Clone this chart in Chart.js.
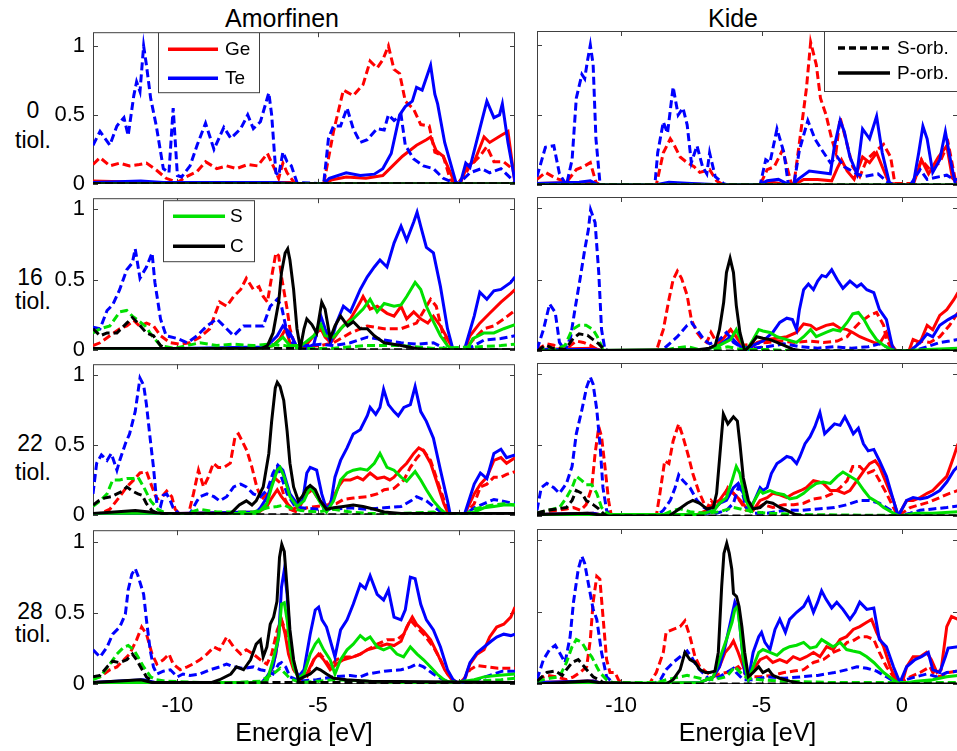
<!DOCTYPE html>
<html>
<head>
<meta charset="utf-8">
<script src="https://cdn.jsdelivr.net/npm/chart.js@4.4.0/dist/chart.umd.min.js"></script>
<style>
  body { margin: 0; background: #fff; }
  #fig { position: relative; width: 957px; height: 751px; overflow: hidden; font-family: "Liberation Sans", Arial, sans-serif; }
  #fig canvas { position: absolute; }
  .lbl { position: absolute; transform: translate(-50%, -50%); white-space: nowrap; color: #000; line-height: 1.15; }
</style>
</head>
<body>
<div id="fig">
  <div class="lbl" style="left:282px;top:18px;font-size:25px">Amorfinen</div>
  <div class="lbl" style="left:733px;top:18px;font-size:25px">Kide</div>
  <div class="lbl" style="left:33px;top:110px;font-size:23px">0</div>
  <div class="lbl" style="left:33px;top:140px;font-size:23px">tiol.</div>
  <div class="lbl" style="left:30px;top:277px;font-size:23px">16</div>
  <div class="lbl" style="left:33px;top:301px;font-size:23px">tiol.</div>
  <div class="lbl" style="left:30px;top:443px;font-size:23px">22</div>
  <div class="lbl" style="left:33px;top:472px;font-size:23px">tiol.</div>
  <div class="lbl" style="left:30px;top:611px;font-size:23px">28</div>
  <div class="lbl" style="left:33px;top:634px;font-size:23px">tiol.</div>
</div>
<script>
// axis ticks
const energyTicks = [-10, -5, 0];
const dosTicks = [0, 0.5, 1];

// no thiols -> no S / C states
const zeroDos = [[-13, 0], [2, 0]];

// ---- 0 tiol., amorphous ----
const a0_GeS = [[-13,0.14],[-12.75,0.19],[-12.4,0.13],[-12.05,0.15],[-11.7,0.13],[-11.35,0.14],[-11.1,0.15],[-10.75,0.1],[-10.4,0.04],[-10.0,0.01],[-9.7,0.05],[-9.3,0.09],[-9.0,0.16],[-8.6,0.11],[-8.25,0.13],[-7.9,0.11],[-7.5,0.14],[-7.15,0.13],[-6.8,0.22],[-6.55,0.11],[-6.4,0.04],[-6.25,0.15],[-6.1,0.08],[-5.85,0.01],[-5.6,0],[-4.8,0],[-4.45,0.38],[-4.1,0.68],[-3.75,0.64],[-3.4,0.72],[-3.15,0.89],[-2.9,0.84],[-2.7,0.9],[-2.5,1.0],[-2.3,0.83],[-2.1,0.8],[-1.9,0.6],[-1.6,0.54],[-1.35,0.43],[-1.05,0.42],[-0.85,0.23],[-0.55,0.2],[-0.3,0.03],[-0.05,0],[0.2,0.06],[0.4,0.13],[0.75,0.2],[1.0,0.27],[1.25,0.16],[1.6,0.16],[1.95,0.1]];
const a0_GeP = [[-13,0.02],[-11,0.01],[-8,0.01],[-6,0.01],[-5.7,0],[-4.8,0],[-4.5,0.03],[-4,0.05],[-3.3,0.04],[-2.7,0.06],[-2.35,0.13],[-2.0,0.2],[-1.5,0.28],[-1.15,0.32],[-1.0,0.34],[-0.8,0.24],[-0.55,0.2],[-0.15,0.01],[0.05,0],[0.3,0.13],[0.55,0.16],[0.9,0.34],[1.1,0.3],[1.5,0.35],[1.75,0.38],[2,0.0]];
const a0_TeS = [[-13,0.28],[-12.75,0.38],[-12.4,0.28],[-12.15,0.42],[-11.9,0.48],[-11.75,0.35],[-11.55,0.64],[-11.45,0.74],[-11.33,0.67],[-11.2,1.0],[-11.1,0.86],[-10.95,0.62],[-10.75,0.42],[-10.5,0.11],[-10.3,0.08],[-10.15,0.55],[-10.0,0.06],[-9.85,0.05],[-9.55,0.13],[-9.3,0.28],[-9.0,0.44],[-8.7,0.25],[-8.35,0.41],[-8.1,0.33],[-7.75,0.4],[-7.5,0.5],[-7.3,0.4],[-7.05,0.45],[-6.75,0.66],[-6.65,0.5],[-6.5,0.08],[-6.4,0.06],[-6.25,0.23],[-6.1,0.16],[-5.95,0.13],[-5.75,0.01],[-4.8,0],[-4.63,0.33],[-4.45,0.42],[-4.2,0.42],[-3.97,0.55],[-3.75,0.4],[-3.5,0.3],[-3.25,0.32],[-2.9,0.4],[-2.65,0.39],[-2.5,0.5],[-2.3,0.46],[-2.05,0.5],[-1.9,0.28],[-1.6,0.18],[-1.25,0.13],[-0.9,0.11],[-0.55,0.04],[-0.2,0.01],[0,0],[0.2,0.04],[0.4,0.08],[0.8,0.11],[1.1,0.08],[1.5,0.11],[1.85,0.04],[2,0]];
const a0_TeP = [[-13,0.01],[-11.3,0.02],[-10.5,0.01],[-8,0.01],[-6.5,0.01],[-5.8,0],[-4.8,0],[-4.6,0.04],[-4.0,0.08],[-3.5,0.06],[-3.0,0.07],[-2.7,0.11],[-2.4,0.22],[-2.1,0.5],[-1.9,0.56],[-1.65,0.6],[-1.5,0.7],[-1.3,0.68],[-1.0,0.86],[-0.85,0.65],[-0.75,0.58],[-0.5,0.3],[-0.1,0.01],[0.05,0],[0.25,0.15],[0.4,0.12],[0.75,0.4],[1.0,0.6],[1.25,0.48],[1.45,0.5],[1.55,0.58],[1.75,0.3],[2,0.02]];

// ---- 0 tiol., crystal ----
const k0_GeS = [[-13,0.04],[-12.7,0.09],[-12.35,0.05],[-11.95,0.02],[-11.6,0.11],[-11.35,0.13],[-11.1,0.16],[-10.9,0.02],[-10.75,0],[-8.75,0],[-8.5,0.23],[-8.25,0.33],[-8.15,0.3],[-7.9,0.2],[-7.65,0.16],[-7.4,0.13],[-7.2,0.09],[-6.85,0.11],[-6.6,0.03],[-6.35,0],[-5.05,0],[-4.8,0.11],[-4.55,0.13],[-4.25,0.25],[-3.95,0.02],[-3.85,0],[-3.6,0.38],[-3.4,0.69],[-3.25,1.02],[-3.05,0.86],[-2.9,0.62],[-2.7,0.5],[-2.5,0.33],[-2.35,0.23],[-2.2,0.48],[-2.0,0.33],[-1.75,0.13],[-1.5,0.06],[-1.25,0.18],[-1.0,0.23],[-0.65,0.29],[-0.4,0.2],[-0.25,0.01],[0.4,0.01],[0.7,0.18],[1.0,0.11],[1.35,0.16],[1.65,0.3],[1.9,0.04],[2,0]];
const k0_GeP = [[-13,0.01],[-11.2,0.02],[-10.8,0],[-8.8,0],[-8.2,0.01],[-6.4,0],[-5.05,0],[-4.6,0.02],[-4.1,0],[-3.85,0],[-3.5,0.04],[-3.0,0.04],[-2.5,0.03],[-2.3,0.12],[-2.15,0.18],[-1.95,0.1],[-1.7,0.04],[-1.4,0.2],[-1.15,0.16],[-0.9,0.23],[-0.7,0.13],[-0.45,0.01],[0.4,0],[0.7,0.18],[0.95,0.08],[1.3,0.2],[1.6,0.28],[1.8,0.05],[2,0.01]];
const k0_TeS = [[-13,0.06],[-12.7,0.27],[-12.4,0.28],[-12.2,0.08],[-11.95,0],[-11.75,0.18],[-11.6,0.62],[-11.4,0.79],[-11.3,0.76],[-11.2,0.89],[-11.1,1.0],[-11.0,0.86],[-10.9,0.33],[-10.75,0],[-8.8,0],[-8.7,0.23],[-8.5,0.45],[-8.35,0.37],[-8.15,0.7],[-7.97,0.5],[-7.8,0.55],[-7.65,0.43],[-7.5,0.16],[-7.3,0.28],[-7.1,0.13],[-6.95,0.08],[-6.85,0.23],[-6.65,0.06],[-6.35,0.01],[-6.2,0],[-5.05,0],[-4.85,0.18],[-4.7,0.16],[-4.45,0.4],[-4.2,0.23],[-4.05,0.01],[-3.85,0],[-3.65,0.25],[-3.35,0.46],[-3.1,0.33],[-2.85,0.25],[-2.55,0.16],[-2.3,0.2],[-2.05,0.13],[-1.6,0.08],[-1.35,0.06],[-0.85,0.08],[-0.5,0.02],[-0.3,0],[0.3,0],[0.65,0.11],[0.9,0.04],[1.35,0.06],[1.6,0.07],[1.85,0.04],[2,0.04]];
const k0_TeP = [[-13,0.01],[-11.5,0.02],[-11.1,0.03],[-10.8,0],[-8.8,0],[-8.3,0.02],[-7.5,0.01],[-6.3,0],[-5.1,0],[-4.8,0.03],[-4.4,0.04],[-4.1,0.01],[-3.9,0],[-3.7,0.04],[-3.3,0.1],[-2.9,0.09],[-2.55,0.08],[-2.4,0.28],[-2.2,0.46],[-2.05,0.38],[-1.85,0.2],[-1.6,0.08],[-1.4,0.4],[-1.15,0.33],[-0.9,0.49],[-0.7,0.23],[-0.45,0.02],[-0.3,0],[0.4,0],[0.6,0.23],[0.75,0.42],[0.9,0.33],[1.1,0.09],[1.35,0.18],[1.55,0.38],[1.7,0.21],[1.9,0.01],[2,0]];

// ---- 16 tiol., amorphous ----
const a16_GeS = [[-13,0.03],[-12.75,0.05],[-12.4,0.1],[-12.05,0.15],[-11.8,0.17],[-11.55,0.21],[-11.35,0.17],[-11.1,0.19],[-10.85,0.17],[-10.6,0.1],[-10.25,0.05],[-9.9,0.04],[-9.55,0.05],[-9.2,0.09],[-8.85,0.15],[-8.5,0.34],[-8.25,0.31],[-8.0,0.38],[-7.75,0.43],[-7.55,0.51],[-7.3,0.43],[-7.1,0.45],[-6.95,0.38],[-6.8,0.34],[-6.65,0.52],[-6.5,0.69],[-6.4,0.67],[-6.3,0.52],[-6.1,0.29],[-6.0,0.15],[-5.85,0.05],[-5.6,0.02],[-4.9,0.03],[-4.45,0.05],[-3.85,0.12],[-3.25,0.17],[-2.65,0.15],[-2.05,0.15],[-1.5,0.19],[-1.0,0.36],[-0.8,0.31],[-0.55,0.1],[-0.35,0],[0.2,0],[0.55,0.08],[0.9,0.15],[1.25,0.17],[1.6,0.22],[2,0.28]];
const a16_GeP = [[-13,0.01],[-7,0.01],[-6.6,0.03],[-6.35,0.08],[-6.15,0.15],[-6.0,0.05],[-5.75,0.02],[-5.4,0.04],[-5.15,0.1],[-4.9,0.15],[-4.75,0.09],[-4.55,0.05],[-4.2,0.15],[-3.85,0.22],[-3.5,0.34],[-3.4,0.38],[-3.15,0.29],[-2.9,0.31],[-2.55,0.26],[-2.3,0.24],[-2.05,0.31],[-1.85,0.22],[-1.6,0.27],[-1.35,0.22],[-1.1,0.19],[-0.9,0.24],[-0.65,0.17],[-0.4,0.08],[-0.2,0],[0.2,0],[0.4,0.1],[0.75,0.19],[1.1,0.26],[1.5,0.34],[1.85,0.4],[2,0.43]];
const a16_TeS = [[-13,0.16],[-12.75,0.15],[-12.5,0.28],[-12.3,0.32],[-12.05,0.43],[-11.8,0.57],[-11.6,0.62],[-11.5,0.72],[-11.33,0.51],[-11.1,0.59],[-10.9,0.69],[-10.8,0.48],[-10.6,0.22],[-10.4,0.1],[-10.0,0.08],[-9.65,0.05],[-9.3,0.1],[-8.95,0.17],[-8.6,0.22],[-8.25,0.15],[-8.0,0.1],[-7.65,0.17],[-7.3,0.17],[-6.95,0.17],[-6.7,0.31],[-6.45,0.36],[-6.3,0.31],[-6.1,0.12],[-5.85,0.03],[-5.4,0.03],[-4.9,0.04],[-4.45,0.03],[-3.85,0.05],[-3.25,0.09],[-2.65,0.07],[-2.05,0.05],[-1.5,0.04],[-0.9,0.05],[-0.4,0],[0.2,0],[0.55,0.03],[0.9,0.07],[1.5,0.08],[2,0.1]];
const a16_TeP = [[-13,0.01],[-10,0.01],[-7,0.02],[-6.8,0.03],[-6.45,0.1],[-6.25,0.17],[-6.0,0.12],[-5.75,0.02],[-5.5,0],[-5.15,0.04],[-4.9,0.24],[-4.75,0.15],[-4.55,0.05],[-4.35,0.19],[-4.1,0.31],[-3.85,0.27],[-3.5,0.43],[-3.25,0.52],[-3.0,0.59],[-2.8,0.64],[-2.55,0.59],[-2.3,0.76],[-2.05,0.88],[-1.85,0.78],[-1.6,0.91],[-1.48,0.98],[-1.35,0.88],[-1.15,0.73],[-0.9,0.69],[-0.65,0.45],[-0.4,0.15],[-0.2,0],[0.2,0],[0.55,0.24],[0.75,0.41],[1.0,0.36],[1.25,0.42],[1.5,0.43],[1.85,0.48],[2,0.52]];
const a16_SS = [[-13,0.12],[-12.75,0.15],[-12.4,0.17],[-12.05,0.27],[-11.8,0.28],[-11.6,0.24],[-11.4,0.21],[-11.15,0.17],[-10.9,0.1],[-10.6,0.03],[-10.1,0.01],[-9.2,0.05],[-8.6,0.03],[-8.0,0.04],[-7.3,0.03],[-6.8,0.04],[-6.2,0.03],[-5.6,0.01],[-4.5,0.01],[-3.3,0.03],[-2.1,0.03],[-0.9,0.01],[0.5,0.02],[1.5,0.03],[2,0.04]];
const a16_SP = [[-13,0.01],[-7,0.01],[-6.6,0.03],[-6.25,0.09],[-6.0,0.03],[-5.6,0.03],[-5.15,0.1],[-4.9,0.18],[-4.75,0.1],[-4.45,0.09],[-4.1,0.17],[-3.75,0.22],[-3.4,0.29],[-3.15,0.36],[-2.9,0.27],[-2.65,0.33],[-2.3,0.31],[-2.05,0.32],[-1.85,0.38],[-1.55,0.48],[-1.35,0.43],[-1.15,0.31],[-0.9,0.2],[-0.65,0.1],[-0.4,0.03],[-0.2,0],[0.3,0],[0.5,0.08],[0.9,0.12],[1.25,0.12],[1.6,0.15],[2,0.18]];
const a16_CS = [[-13,0.15],[-12.75,0.1],[-12.5,0.12],[-12.15,0.12],[-11.8,0.19],[-11.6,0.23],[-11.45,0.2],[-11.1,0.12],[-10.85,0.1],[-10.6,0.03],[-10.4,0.01],[-8,0.01],[-6,0.01],[-5,0.0],[2,0]];
const a16_CP = [[-13,0.01],[-7.0,0.01],[-6.8,0.03],[-6.6,0.12],[-6.4,0.34],[-6.3,0.55],[-6.17,0.69],[-6.08,0.72],[-6.0,0.64],[-5.87,0.43],[-5.75,0.15],[-5.63,0.01],[-5.5,0.15],[-5.4,0.22],[-5.22,0.18],[-5.05,0.12],[-4.87,0.34],[-4.75,0.29],[-4.57,0.08],[-4.4,0.17],[-4.2,0.24],[-3.95,0.17],[-3.75,0.2],[-3.5,0.15],[-3.25,0.15],[-3.0,0.1],[-2.65,0.05],[-2.05,0.03],[-1.5,0.01],[-1,0],[2,0]];

// ---- 16 tiol., crystal ----
const k16_GeS = [[-13,0.01],[-12.65,0.05],[-12.4,0.04],[-12.0,0.0],[-11.8,0.04],[-11.6,0.07],[-11.35,0.06],[-11.1,0.04],[-10.85,0.01],[-10.65,0],[-8.75,0],[-8.5,0.15],[-8.3,0.36],[-8.15,0.5],[-8.0,0.56],[-7.85,0.51],[-7.65,0.39],[-7.5,0.22],[-7.3,0.13],[-7.1,0.08],[-6.95,0.06],[-6.8,0.13],[-6.6,0.06],[-6.35,0.1],[-6.1,0.15],[-5.9,0.1],[-5.65,0.04],[-5.3,0.05],[-4.8,0.06],[-4.3,0.07],[-3.8,0.06],[-3.3,0.07],[-2.8,0.06],[-2.3,0.07],[-1.95,0.1],[-1.75,0.15],[-1.5,0.2],[-1.15,0.25],[-0.9,0.27],[-0.65,0.18],[-0.55,0.08],[-0.35,0.01],[-0.2,0],[0.3,0],[0.65,0.07],[1.0,0.06],[1.35,0.1],[1.7,0.18],[2,0.27]];
const k16_GeP = [[-13,0.01],[-11,0.02],[-10.6,0],[-8.6,0],[-7,0.01],[-6.6,0.04],[-6.35,0.09],[-6.1,0.15],[-5.9,0.1],[-5.65,0.02],[-5.5,0],[-5.15,0.06],[-4.8,0.08],[-4.45,0.09],[-4.1,0.1],[-3.75,0.13],[-3.5,0.19],[-3.25,0.18],[-3.05,0.15],[-2.7,0.18],[-2.45,0.19],[-2.2,0.16],[-1.95,0.15],[-1.75,0.13],[-1.5,0.1],[-1.25,0.08],[-1.0,0.06],[-0.8,0.05],[-0.55,0.13],[-0.35,0.04],[-0.2,0],[0.25,0],[0.4,0.08],[0.65,0.06],[0.9,0.18],[1.1,0.15],[1.35,0.25],[1.6,0.29],[1.85,0.36],[2,0.41]];
const k16_TeS = [[-13,0.01],[-12.77,0.15],[-12.55,0.33],[-12.35,0.27],[-12.2,0.06],[-12.0,0],[-11.8,0.1],[-11.65,0.29],[-11.47,0.5],[-11.3,0.71],[-11.17,0.85],[-11.09,0.99],[-10.93,0.9],[-10.8,0.55],[-10.7,0.15],[-10.58,0.01],[-10.4,0],[-8.6,0],[-8.4,0.03],[-8.0,0.1],[-7.65,0.18],[-7.5,0.2],[-7.3,0.15],[-7.05,0.08],[-6.85,0.05],[-6.5,0.08],[-6.25,0.13],[-6.0,0.06],[-5.75,0.03],[-5.3,0.02],[-4.8,0.03],[-4.2,0.05],[-3.6,0.03],[-3.0,0.02],[-2.4,0.03],[-1.8,0.02],[-1.2,0.03],[-0.8,0.05],[-0.55,0.03],[-0.3,0],[0.4,0],[0.9,0.03],[1.35,0.06],[1.7,0.07],[2,0.08]];
const k16_TeP = [[-13,0.01],[-11,0.01],[-10.5,0],[-8.5,0],[-7,0.01],[-6.5,0.04],[-6.1,0.1],[-5.9,0.06],[-5.65,0.01],[-5.5,0],[-5.3,0.04],[-4.95,0.07],[-4.6,0.13],[-4.35,0.2],[-4.1,0.23],[-3.9,0.22],[-3.75,0.15],[-3.65,0.29],[-3.5,0.43],[-3.33,0.47],[-3.15,0.43],[-3.0,0.49],[-2.85,0.53],[-2.7,0.52],[-2.5,0.57],[-2.3,0.5],[-2.1,0.44],[-1.85,0.49],[-1.6,0.45],[-1.45,0.47],[-1.25,0.43],[-1.0,0.41],[-0.8,0.29],[-0.55,0.22],[-0.35,0.04],[-0.25,0],[0.3,0],[0.65,0.06],[0.9,0.12],[1.1,0.1],[1.35,0.18],[1.65,0.22],[2,0.26]];
const k16_SS = [[-13,0],[-12.7,0.02],[-12.35,0.01],[-12.0,0.04],[-11.75,0.15],[-11.5,0.18],[-11.25,0.18],[-11.0,0.15],[-10.85,0.1],[-10.65,0.01],[-10.5,0],[-8.6,0],[-8.1,0.02],[-7.65,0.03],[-7.2,0.01],[-6.7,0.01],[-6.2,0.03],[-5.7,0.01],[-4.8,0.01],[-3.6,0],[2,0]];
const k16_SP = [[-13,0],[-7,0.01],[-6.5,0.04],[-6.1,0.08],[-5.9,0.15],[-5.7,0.06],[-5.55,0],[-5.3,0.08],[-5.1,0.15],[-4.95,0.14],[-4.7,0.13],[-4.45,0.1],[-4.1,0.08],[-3.75,0.06],[-3.5,0.1],[-3.25,0.15],[-3.05,0.1],[-2.7,0.13],[-2.45,0.15],[-2.2,0.14],[-1.95,0.2],[-1.75,0.26],[-1.55,0.27],[-1.35,0.22],[-1.15,0.15],[-0.9,0.08],[-0.65,0.04],[-0.4,0.01],[-0.1,0],[0.9,0.01],[2,0.02]];
const k16_CS = [[-13,0],[-12.7,0.04],[-12.45,0.02],[-12.0,0.01],[-11.7,0.09],[-11.5,0.12],[-11.2,0.11],[-11.0,0.08],[-10.8,0.05],[-10.6,0.01],[-10.4,0],[2,0]];
const k16_CP = [[-13,0],[-7.2,0.01],[-6.85,0.02],[-6.65,0.04],[-6.5,0.15],[-6.35,0.34],[-6.25,0.55],[-6.12,0.65],[-6.0,0.55],[-5.9,0.32],[-5.77,0.13],[-5.6,0],[-5.4,0.04],[-5.17,0.1],[-4.95,0.09],[-4.7,0.08],[-4.45,0.06],[-4.2,0.04],[-3.85,0.01],[-3.5,0],[2,0]];

// ---- 22 tiol., amorphous ----
const a22_GeS = [[-13,0],[-12.75,0.01],[-12.4,0.04],[-12.05,0.13],[-11.8,0.2],[-11.55,0.25],[-11.33,0.3],[-11.1,0.31],[-10.9,0.2],[-10.73,0.11],[-10.55,0.13],[-10.38,0.17],[-10.2,0.13],[-10.08,0.04],[-9.9,0],[-9.6,0.01],[-9.43,0.15],[-9.25,0.32],[-9.07,0.2],[-8.9,0.27],[-8.72,0.37],[-8.55,0.34],[-8.35,0.34],[-8.12,0.37],[-7.95,0.56],[-7.83,0.58],[-7.7,0.53],[-7.53,0.46],[-7.35,0.34],[-7.18,0.2],[-7.0,0.11],[-6.82,0.15],[-6.65,0.25],[-6.52,0.26],[-6.35,0.23],[-6.17,0.11],[-6.0,0.04],[-5.75,0.02],[-5.4,0.05],[-5.05,0.06],[-4.7,0.07],[-4.35,0.08],[-4.1,0.11],[-3.75,0.12],[-3.25,0.13],[-2.9,0.15],[-2.65,0.18],[-2.3,0.19],[-1.95,0.25],[-1.72,0.34],[-1.48,0.41],[-1.25,0.46],[-1.0,0.39],[-0.77,0.25],[-0.53,0.11],[-0.35,0],[0.2,0],[0.55,0.08],[0.77,0.2],[1.0,0.22],[1.25,0.27],[1.5,0.27],[1.7,0.29],[2,0.31]];
const a22_GeP = [[-13,0.01],[-10,0.01],[-7.1,0.02],[-6.82,0.06],[-6.65,0.12],[-6.45,0.18],[-6.3,0.13],[-6.1,0.08],[-5.9,0.04],[-5.65,0.06],[-5.4,0.15],[-5.2,0.18],[-5.05,0.13],[-4.85,0.08],[-4.7,0.04],[-4.45,0.13],[-4.25,0.21],[-4.1,0.25],[-3.85,0.25],[-3.6,0.27],[-3.4,0.25],[-3.15,0.3],[-2.9,0.26],[-2.65,0.27],[-2.45,0.25],[-2.3,0.27],[-2.05,0.33],[-1.85,0.37],[-1.6,0.44],[-1.42,0.48],[-1.25,0.46],[-1.0,0.37],[-0.77,0.23],[-0.53,0.08],[-0.35,0],[0.2,0],[0.55,0.15],[0.77,0.22],[1.0,0.27],[1.25,0.39],[1.5,0.41],[1.7,0.37],[2,0.41]];
const a22_TeS = [[-13,0.15],[-12.87,0.37],[-12.7,0.43],[-12.5,0.39],[-12.35,0.44],[-12.15,0.32],[-12.05,0.39],[-11.85,0.51],[-11.7,0.58],[-11.5,0.74],[-11.33,0.98],[-11.2,0.93],[-11.1,0.79],[-10.97,0.55],[-10.85,0.34],[-10.73,0.08],[-10.6,0.06],[-10.5,0.14],[-10.38,0.15],[-10.25,0.1],[-10.15,0.05],[-9.9,0],[-9.55,0.01],[-9.3,0.1],[-9.2,0.13],[-8.95,0.15],[-8.7,0.13],[-8.5,0.1],[-8.25,0.13],[-8.0,0.2],[-7.75,0.22],[-7.55,0.2],[-7.3,0.15],[-7.05,0.13],[-6.8,0.18],[-6.6,0.3],[-6.45,0.35],[-6.3,0.27],[-6.1,0.15],[-5.85,0.07],[-5.6,0.05],[-5.0,0.04],[-4.45,0.04],[-3.85,0.05],[-3.25,0.04],[-2.65,0.05],[-2.05,0.06],[-1.7,0.1],[-1.5,0.13],[-1.15,0.1],[-0.9,0.06],[-0.55,0.01],[-0.35,0],[0.2,0],[0.55,0.05],[0.9,0.08],[1.25,0.11],[1.5,0.1],[2,0.08]];
const a22_TeP = [[-13,0.01],[-10,0.01],[-7.2,0.02],[-7.05,0.05],[-6.8,0.13],[-6.6,0.25],[-6.4,0.35],[-6.25,0.32],[-6.0,0.15],[-5.75,0.08],[-5.55,0.1],[-5.4,0.3],[-5.28,0.34],[-5.05,0.32],[-4.87,0.15],[-4.7,0.04],[-4.55,0.08],[-4.4,0.27],[-4.2,0.39],[-3.97,0.48],[-3.75,0.58],[-3.5,0.61],[-3.25,0.71],[-3.15,0.77],[-2.95,0.72],[-2.8,0.77],[-2.67,0.9],[-2.5,0.79],[-2.3,0.74],[-2.15,0.71],[-1.95,0.77],[-1.72,0.79],[-1.55,0.92],[-1.35,0.74],[-1.15,0.67],[-0.9,0.55],[-0.65,0.32],[-0.4,0.1],[-0.3,0],[0.2,0],[0.55,0.22],[0.77,0.3],[1.0,0.26],[1.25,0.44],[1.5,0.47],[1.7,0.41],[2,0.43]];
const a22_SS = [[-13,0.06],[-12.75,0.1],[-12.5,0.15],[-12.3,0.25],[-12.05,0.25],[-11.8,0.26],[-11.55,0.26],[-11.4,0.27],[-11.2,0.2],[-10.95,0.1],[-10.7,0.04],[-10.4,0.01],[-9.8,0],[-9.2,0.04],[-8.6,0.02],[-8.0,0.02],[-7.3,0.02],[-6.8,0.05],[-6.45,0.06],[-6.2,0.07],[-6.0,0.05],[-5.6,0.03],[-5.0,0.02],[-4.45,0.04],[-3.85,0.02],[-3.25,0.01],[-2.05,0.01],[-0.9,0.02],[-0.35,0],[0.2,0],[0.55,0.04],[0.9,0.06],[1.25,0.07],[1.6,0.08],[2,0.07]];
const a22_SP = [[-13,0.01],[-10,0.01],[-7.2,0.01],[-7.05,0.03],[-6.82,0.08],[-6.65,0.2],[-6.45,0.32],[-6.35,0.34],[-6.2,0.27],[-6.0,0.13],[-5.75,0.06],[-5.5,0.1],[-5.28,0.2],[-5.1,0.15],[-4.9,0.08],[-4.7,0.02],[-4.45,0.1],[-4.2,0.25],[-3.97,0.3],[-3.75,0.32],[-3.5,0.33],[-3.25,0.32],[-3.0,0.37],[-2.8,0.44],[-2.55,0.34],[-2.3,0.32],[-2.05,0.27],[-1.85,0.24],[-1.55,0.31],[-1.35,0.25],[-1.15,0.18],[-0.9,0.1],[-0.65,0.04],[-0.4,0],[0.2,0],[0.55,0.02],[0.9,0.05],[1.25,0.06],[1.6,0.07],[2,0.07]];
const a22_CS = [[-13,0.07],[-12.8,0.1],[-12.6,0.12],[-12.35,0.13],[-12.15,0.15],[-11.95,0.17],[-11.8,0.2],[-11.6,0.17],[-11.4,0.15],[-11.25,0.14],[-11.1,0.08],[-10.9,0.03],[-10.7,0.01],[-10.4,0],[2,0]];
const a22_CP = [[-13,0.01],[-11.5,0.03],[-11,0.02],[-10.5,0.01],[-8.1,0.01],[-7.8,0.07],[-7.55,0.1],[-7.35,0.07],[-7.2,0.1],[-6.95,0.2],[-6.75,0.44],[-6.65,0.67],[-6.52,0.91],[-6.45,0.95],[-6.35,0.92],[-6.22,0.82],[-6.1,0.6],[-6.0,0.37],[-5.87,0.2],[-5.7,0.1],[-5.57,0.13],[-5.4,0.19],[-5.28,0.21],[-5.1,0.18],[-4.92,0.1],[-4.7,0.04],[-4.45,0.05],[-4.1,0.06],[-3.75,0.07],[-3.4,0.06],[-3.0,0.04],[-2.65,0.02],[-2.05,0.01],[2,0.01]];

// ---- 22 tiol., crystal ----
const k22_GeS = [[-13,0.02],[-12.65,0.03],[-12.3,0.04],[-11.95,0.05],[-11.7,0.06],[-11.45,0.04],[-11.25,0.08],[-11.05,0.2],[-10.93,0.44],[-10.8,0.63],[-10.7,0.56],[-10.58,0.35],[-10.45,0.11],[-10.35,0],[-8.75,0],[-8.62,0.16],[-8.45,0.39],[-8.3,0.37],[-8.15,0.53],[-7.95,0.65],[-7.8,0.56],[-7.6,0.42],[-7.45,0.3],[-7.25,0.18],[-7.05,0.09],[-6.95,0.05],[-6.8,0.11],[-6.6,0.06],[-6.35,0.13],[-6.2,0.2],[-6.0,0.16],[-5.75,0.1],[-5.55,0.04],[-5.3,0.04],[-4.95,0.08],[-4.6,0.06],[-4.2,0.08],[-3.85,0.08],[-3.5,0.09],[-3.15,0.12],[-2.8,0.13],[-2.45,0.16],[-2.2,0.2],[-1.95,0.25],[-1.75,0.35],[-1.5,0.35],[-1.25,0.3],[-1.0,0.32],[-0.8,0.25],[-0.55,0.16],[-0.3,0.06],[-0.13,0],[0.3,0.06],[0.65,0.08],[1.0,0.1],[1.35,0.13],[1.7,0.16],[2,0.18]];
const k22_GeP = [[-13,0.01],[-11,0.02],[-10.5,0],[-8.7,0],[-7.3,0.01],[-6.95,0.04],[-6.7,0.09],[-6.5,0.11],[-6.25,0.18],[-6.0,0.16],[-5.75,0.11],[-5.55,0.06],[-5.3,0.04],[-5.05,0.11],[-4.8,0.13],[-4.6,0.16],[-4.35,0.15],[-4.1,0.13],[-3.85,0.16],[-3.6,0.18],[-3.4,0.2],[-3.15,0.25],[-2.95,0.24],[-2.8,0.23],[-2.55,0.18],[-2.3,0.18],[-2.05,0.16],[-1.85,0.18],[-1.6,0.25],[-1.35,0.32],[-1.15,0.37],[-0.95,0.39],[-0.8,0.35],[-0.55,0.23],[-0.3,0.11],[-0.13,0],[0.17,0.11],[0.4,0.11],[0.65,0.13],[0.9,0.16],[1.1,0.18],[1.35,0.23],[1.6,0.28],[1.85,0.42],[2,0.51]];
const k22_TeS = [[-13,0.04],[-12.85,0.2],[-12.65,0.23],[-12.4,0.2],[-12.2,0.16],[-11.95,0.23],[-11.75,0.35],[-11.6,0.58],[-11.4,0.75],[-11.23,0.91],[-11.1,0.98],[-11.0,0.93],[-10.87,0.75],[-10.75,0.49],[-10.65,0.2],[-10.52,0.04],[-10.4,0],[-8.75,0],[-8.5,0.04],[-8.25,0.11],[-8.08,0.2],[-7.95,0.29],[-7.8,0.25],[-7.55,0.2],[-7.3,0.11],[-7.05,0.06],[-6.85,0.04],[-6.6,0.02],[-6.25,0.04],[-6.0,0.09],[-5.83,0.2],[-5.7,0.18],[-5.55,0.06],[-5.3,0.02],[-4.8,0.02],[-4.2,0.04],[-3.6,0.04],[-3.0,0.05],[-2.4,0.06],[-1.95,0.08],[-1.5,0.11],[-1.15,0.11],[-0.8,0.09],[-0.4,0.04],[-0.15,0],[0.3,0.02],[0.65,0.04],[1.1,0.05],[1.6,0.06],[2,0.07]];
const k22_TeP = [[-13,0.01],[-11,0.02],[-10.5,0],[-8.7,0],[-7.2,0.01],[-6.9,0.02],[-6.7,0.04],[-6.5,0.09],[-6.25,0.11],[-6.0,0.2],[-5.83,0.23],[-5.65,0.16],[-5.4,0.06],[-5.25,0.11],[-5.05,0.2],[-4.95,0.18],[-4.8,0.2],[-4.65,0.3],[-4.45,0.37],[-4.3,0.39],[-4.1,0.42],[-3.93,0.41],[-3.75,0.37],[-3.63,0.42],[-3.45,0.51],[-3.27,0.56],[-3.1,0.63],[-2.92,0.73],[-2.75,0.58],[-2.55,0.62],[-2.4,0.65],[-2.2,0.64],[-2.03,0.7],[-1.85,0.63],[-1.73,0.58],[-1.55,0.62],[-1.37,0.51],[-1.2,0.46],[-1.0,0.47],[-0.8,0.39],[-0.55,0.28],[-0.3,0.11],[-0.13,0],[0.17,0.11],[0.4,0.13],[0.65,0.12],[0.9,0.13],[1.1,0.15],[1.35,0.18],[1.6,0.24],[1.85,0.32],[2,0.35]];
const k22_SS = [[-13,0.02],[-12.6,0.04],[-12.2,0.06],[-11.95,0.13],[-11.75,0.2],[-11.6,0.28],[-11.4,0.25],[-11.25,0.22],[-11.05,0.22],[-10.87,0.16],[-10.7,0.06],[-10.5,0.02],[-10.3,0],[-8.6,0],[-8.15,0.04],[-7.9,0.05],[-7.55,0.03],[-6.95,0.02],[-6.5,0.03],[-6.0,0.06],[-5.75,0.05],[-5.3,0.03],[-4.8,0.02],[-3.6,0.01],[2,0]];
const k22_SP = [[-13,0.01],[-7.2,0.01],[-6.7,0.04],[-6.5,0.09],[-6.25,0.13],[-6.05,0.25],[-5.9,0.35],[-5.77,0.3],[-5.6,0.13],[-5.4,0.04],[-5.25,0.11],[-5.05,0.18],[-4.95,0.16],[-4.7,0.18],[-4.45,0.16],[-4.2,0.15],[-4.0,0.12],[-3.75,0.13],[-3.5,0.16],[-3.27,0.2],[-3.05,0.23],[-2.8,0.24],[-2.55,0.23],[-2.3,0.28],[-2.1,0.31],[-1.85,0.28],[-1.6,0.25],[-1.35,0.18],[-1.15,0.13],[-0.9,0.1],[-0.65,0.06],[-0.3,0.02],[-0.1,0],[0.5,0.02],[1.1,0.02],[2,0.03]];
const k22_CS = [[-13,0.02],[-12.65,0.04],[-12.3,0.05],[-11.95,0.06],[-11.75,0.11],[-11.6,0.18],[-11.4,0.16],[-11.25,0.11],[-11.0,0.08],[-10.8,0.05],[-10.65,0.02],[-10.5,0],[2,0]];
const k22_CP = [[-13,0.01],[-11.2,0.02],[-10.5,0],[-8.3,0],[-8.0,0.04],[-7.65,0.09],[-7.45,0.11],[-7.2,0.09],[-6.95,0.05],[-6.72,0.06],[-6.6,0.16],[-6.48,0.44],[-6.36,0.72],[-6.2,0.65],[-6.0,0.7],[-5.86,0.67],[-5.77,0.51],[-5.65,0.27],[-5.47,0.11],[-5.3,0.05],[-5.05,0.06],[-4.82,0.1],[-4.6,0.09],[-4.35,0.06],[-4.1,0.04],[-3.8,0.01],[-3.5,0],[2,0]];

// ---- 28 tiol., amorphous ----
const a28_GeS = [[-13,0.04],[-12.75,0.05],[-12.4,0.1],[-12.15,0.12],[-11.9,0.17],[-11.7,0.21],[-11.45,0.31],[-11.27,0.4],[-11.1,0.35],[-10.9,0.21],[-10.73,0.14],[-10.5,0.17],[-10.3,0.21],[-10.15,0.14],[-9.9,0.1],[-9.65,0.12],[-9.45,0.14],[-9.2,0.17],[-8.95,0.21],[-8.7,0.26],[-8.5,0.24],[-8.25,0.33],[-8.0,0.26],[-7.75,0.21],[-7.55,0.24],[-7.3,0.21],[-7.05,0.17],[-6.82,0.14],[-6.65,0.21],[-6.45,0.38],[-6.3,0.45],[-6.17,0.38],[-6.0,0.21],[-5.8,0.07],[-5.63,0.03],[-5.4,0.05],[-5.15,0.17],[-4.92,0.21],[-4.75,0.17],[-4.57,0.12],[-4.35,0.17],[-4.1,0.19],[-3.75,0.19],[-3.5,0.21],[-3.25,0.24],[-2.9,0.28],[-2.55,0.31],[-2.2,0.31],[-1.95,0.35],[-1.72,0.45],[-1.5,0.4],[-1.25,0.35],[-0.9,0.26],[-0.65,0.17],[-0.4,0.07],[-0.2,0.03],[0,0],[0.2,0.04],[0.4,0.1],[0.65,0.13],[1.0,0.12],[1.4,0.11],[2,0.11]];
const a28_GeP = [[-13,0.01],[-11.3,0.02],[-10.8,0.01],[-7.0,0.01],[-6.7,0.07],[-6.5,0.21],[-6.4,0.38],[-6.3,0.45],[-6.17,0.35],[-6.05,0.21],[-5.87,0.1],[-5.63,0.04],[-5.4,0.07],[-5.16,0.17],[-4.98,0.21],[-4.8,0.17],[-4.57,0.1],[-4.35,0.14],[-4.1,0.17],[-3.75,0.19],[-3.5,0.21],[-3.25,0.24],[-2.9,0.26],[-2.55,0.28],[-2.3,0.27],[-2.05,0.3],[-1.85,0.4],[-1.65,0.47],[-1.5,0.42],[-1.25,0.37],[-1.0,0.31],[-0.75,0.21],[-0.5,0.1],[-0.25,0.03],[0,0],[0.2,0.03],[0.4,0.14],[0.65,0.21],[0.9,0.24],[1.1,0.33],[1.35,0.4],[1.6,0.42],[1.85,0.47],[2,0.54]];
const a28_TeS = [[-13,0.24],[-12.75,0.19],[-12.5,0.26],[-12.3,0.35],[-12.05,0.4],[-11.85,0.49],[-11.75,0.66],[-11.62,0.77],[-11.5,0.81],[-11.4,0.76],[-11.2,0.63],[-11.1,0.45],[-10.97,0.24],[-10.85,0.12],[-10.73,0.07],[-10.5,0.09],[-10.25,0.1],[-10.0,0.05],[-9.8,0.07],[-9.55,0.06],[-9.2,0.07],[-8.85,0.1],[-8.5,0.12],[-8.25,0.14],[-8.0,0.12],[-7.65,0.11],[-7.3,0.12],[-7.05,0.1],[-6.8,0.09],[-6.6,0.07],[-6.4,0.14],[-6.3,0.15],[-6.15,0.12],[-6.0,0.05],[-5.65,0.02],[-5.05,0.03],[-4.45,0.05],[-3.85,0.06],[-3.5,0.05],[-3.25,0.07],[-2.65,0.09],[-2.05,0.1],[-1.7,0.12],[-1.5,0.14],[-1.25,0.12],[-0.9,0.07],[-0.55,0.03],[-0.2,0.0],[0.3,0.0],[0.65,0.03],[1.1,0.06],[1.55,0.09],[2,0.09]];
const a28_TeP = [[-13,0.01],[-11.2,0.03],[-10.8,0.01],[-7.0,0.01],[-6.82,0.05],[-6.6,0.12],[-6.4,0.33],[-6.3,0.68],[-6.2,0.8],[-6.1,0.63],[-6.0,0.33],[-5.87,0.14],[-5.7,0.05],[-5.5,0.1],[-5.28,0.35],[-5.1,0.52],[-4.98,0.54],[-4.86,0.45],[-4.7,0.4],[-4.5,0.26],[-4.4,0.19],[-4.2,0.38],[-3.97,0.45],[-3.75,0.56],[-3.5,0.7],[-3.32,0.67],[-3.15,0.76],[-2.9,0.63],[-2.67,0.59],[-2.5,0.66],[-2.3,0.47],[-2.05,0.45],[-1.9,0.52],[-1.72,0.75],[-1.55,0.74],[-1.35,0.56],[-1.15,0.45],[-0.9,0.38],[-0.65,0.26],[-0.4,0.1],[-0.2,0.03],[0,0],[0.2,0.03],[0.4,0.15],[0.65,0.22],[0.9,0.26],[1.15,0.3],[1.35,0.33],[1.6,0.35],[1.85,0.34],[2,0.35]];
const a28_SS = [[-13,0.03],[-12.75,0.05],[-12.4,0.14],[-12.15,0.21],[-11.9,0.26],[-11.75,0.27],[-11.55,0.24],[-11.4,0.19],[-11.2,0.12],[-10.95,0.05],[-10.75,0.03],[-10.4,0.02],[-9.2,0.01],[-8.0,0.01],[-7.05,0.02],[-6.8,0.05],[-6.6,0.07],[-6.35,0.11],[-6.15,0.07],[-6.0,0.04],[-5.65,0.01],[-5.0,0.02],[-4.45,0.03],[-3.25,0.02],[-2.05,0.01],[-0.9,0.01],[0.3,0.02],[1.5,0.03],[2,0.04]];
const a28_SP = [[-13,0.01],[-7.0,0.01],[-6.8,0.03],[-6.6,0.17],[-6.4,0.33],[-6.3,0.56],[-6.2,0.57],[-6.1,0.45],[-6.0,0.26],[-5.87,0.12],[-5.7,0.04],[-5.5,0.07],[-5.28,0.21],[-5.1,0.28],[-4.98,0.31],[-4.8,0.24],[-4.57,0.17],[-4.4,0.07],[-4.2,0.17],[-3.97,0.24],[-3.75,0.28],[-3.5,0.34],[-3.32,0.31],[-3.15,0.33],[-2.9,0.26],[-2.67,0.24],[-2.43,0.26],[-2.2,0.21],[-1.96,0.19],[-1.72,0.26],[-1.48,0.21],[-1.25,0.17],[-1.0,0.12],[-0.77,0.07],[-0.53,0.03],[-0.2,0],[0.2,0.02],[0.55,0.03],[0.9,0.05],[1.35,0.06],[2,0.07]];
const a28_CS = [[-13,0.05],[-12.75,0.06],[-12.5,0.12],[-12.3,0.16],[-12.05,0.15],[-11.8,0.17],[-11.6,0.21],[-11.45,0.17],[-11.25,0.1],[-11.1,0.05],[-10.85,0.01],[-10.5,0],[-6.5,0.01],[-3,0.01],[2,0.01]];
const a28_CP = [[-13,0.01],[-11.3,0.03],[-10.9,0.01],[-8.8,0.01],[-8.5,0.03],[-8.1,0.07],[-7.9,0.12],[-7.65,0.1],[-7.4,0.17],[-7.2,0.28],[-7.05,0.31],[-6.95,0.19],[-6.82,0.26],[-6.7,0.42],[-6.58,0.47],[-6.46,0.58],[-6.37,0.89],[-6.29,0.98],[-6.2,0.93],[-6.1,0.67],[-6.0,0.38],[-5.87,0.17],[-5.7,0.03],[-5.5,0.05],[-5.28,0.07],[-5.05,0.11],[-4.92,0.1],[-4.7,0.07],[-4.45,0.04],[-4.0,0.03],[-3.2,0.02],[2,0.01]];

// ---- 28 tiol., crystal ----
const k28_GeS = [[-13,0.03],[-12.65,0.06],[-12.3,0.05],[-11.95,0.03],[-11.7,0.05],[-11.47,0.08],[-11.23,0.12],[-11.1,0.31],[-11.0,0.57],[-10.87,0.75],[-10.76,0.73],[-10.64,0.45],[-10.52,0.17],[-10.4,0.08],[-10.22,0.08],[-10.1,0.03],[-9.95,0],[-9.0,0],[-8.75,0.08],[-8.5,0.22],[-8.4,0.36],[-8.15,0.38],[-7.9,0.4],[-7.73,0.44],[-7.55,0.33],[-7.37,0.19],[-7.2,0.12],[-6.95,0.08],[-6.72,0.05],[-6.5,0.07],[-6.25,0.08],[-6.0,0.1],[-5.83,0.12],[-5.65,0.08],[-5.4,0.05],[-5.05,0.05],[-4.6,0.06],[-4.2,0.08],[-3.85,0.09],[-3.5,0.1],[-3.15,0.15],[-2.8,0.17],[-2.45,0.22],[-2.2,0.24],[-1.95,0.29],[-1.75,0.3],[-1.5,0.33],[-1.25,0.33],[-1.0,0.31],[-0.8,0.22],[-0.55,0.12],[-0.3,0.05],[-0.07,0.01],[0.3,0.05],[0.65,0.08],[1.0,0.12],[1.1,0.08],[1.35,0.05],[1.65,0.08],[2,0.09]];
const k28_GeP = [[-13,0.01],[-11,0.02],[-10.6,0],[-8.8,0],[-7.2,0.01],[-6.72,0.05],[-6.5,0.12],[-6.3,0.22],[-6.12,0.26],[-6.0,0.3],[-5.83,0.22],[-5.65,0.12],[-5.47,0.03],[-5.3,0.1],[-5.05,0.17],[-4.82,0.19],[-4.6,0.15],[-4.35,0.17],[-4.1,0.15],[-3.87,0.19],[-3.63,0.17],[-3.4,0.19],[-3.15,0.22],[-2.92,0.19],[-2.68,0.26],[-2.45,0.24],[-2.2,0.31],[-1.97,0.33],[-1.73,0.38],[-1.5,0.4],[-1.25,0.43],[-1.08,0.45],[-0.9,0.36],[-0.65,0.26],[-0.42,0.12],[-0.2,0.03],[0,0],[0.17,0.12],[0.4,0.19],[0.65,0.19],[0.88,0.22],[1.05,0.17],[1.25,0.08],[1.4,0.1],[1.6,0.4],[1.77,0.47],[2,0.45]];
const k28_TeS = [[-13,0.03],[-12.77,0.17],[-12.55,0.24],[-12.35,0.27],[-12.2,0.22],[-12.0,0.15],[-11.82,0.33],[-11.7,0.57],[-11.53,0.8],[-11.4,0.89],[-11.3,0.84],[-11.17,0.7],[-11.0,0.52],[-10.87,0.45],[-10.7,0.22],[-10.52,0.05],[-10.35,0.02],[-10.2,0],[-8.85,0],[-8.6,0.03],[-8.4,0.1],[-8.15,0.15],[-7.9,0.19],[-7.65,0.23],[-7.5,0.19],[-7.3,0.12],[-7.05,0.07],[-6.85,0.03],[-6.5,0.05],[-6.25,0.08],[-6.0,0.11],[-5.9,0.08],[-5.65,0.03],[-5.3,0.03],[-4.8,0.05],[-4.2,0.04],[-3.6,0.05],[-3.0,0.06],[-2.4,0.08],[-1.95,0.1],[-1.6,0.12],[-1.25,0.11],[-0.9,0.09],[-0.55,0.05],[-0.2,0.01],[0.15,0.03],[0.5,0.05],[0.9,0.07],[1.25,0.05],[1.6,0.08],[2,0.09]];
const k28_TeP = [[-13,0.01],[-11,0.02],[-10.6,0],[-8.8,0],[-7.2,0.01],[-6.95,0.03],[-6.72,0.05],[-6.5,0.12],[-6.3,0.26],[-6.12,0.42],[-5.95,0.57],[-5.83,0.52],[-5.7,0.26],[-5.6,0.08],[-5.47,0.03],[-5.3,0.22],[-5.1,0.33],[-5.0,0.36],[-4.88,0.29],[-4.7,0.24],[-4.52,0.38],[-4.35,0.45],[-4.15,0.36],[-4.0,0.45],[-3.75,0.5],[-3.5,0.54],[-3.33,0.6],[-3.15,0.5],[-3.0,0.57],[-2.86,0.65],[-2.7,0.59],[-2.5,0.53],[-2.32,0.57],[-2.1,0.52],[-1.85,0.45],[-1.67,0.5],[-1.5,0.57],[-1.25,0.52],[-1.0,0.53],[-0.8,0.31],[-0.55,0.26],[-0.3,0.12],[-0.07,0.01],[0.17,0.12],[0.47,0.17],[0.7,0.19],[0.94,0.22],[1.1,0.1],[1.35,0.08],[1.55,0.19],[1.65,0.25],[2,0.26]];
const k28_SS = [[-13,0.02],[-12.55,0.04],[-12.2,0.05],[-11.95,0.15],[-11.75,0.26],[-11.6,0.31],[-11.4,0.29],[-11.25,0.24],[-11.05,0.19],[-10.87,0.12],[-10.76,0.08],[-10.52,0.03],[-10.3,0.01],[-8.7,0.01],[-8.4,0.03],[-7.9,0.05],[-7.65,0.06],[-7.2,0.04],[-6.7,0.03],[-6.25,0.05],[-5.95,0.12],[-5.75,0.08],[-5.5,0.04],[-5.05,0.03],[-4.2,0.02],[-2.5,0.01],[2,0.01]];
const k28_SP = [[-13,0],[-7.2,0.01],[-6.72,0.05],[-6.5,0.17],[-6.25,0.31],[-6.05,0.43],[-5.95,0.52],[-5.86,0.54],[-5.77,0.4],[-5.65,0.17],[-5.47,0.03],[-5.3,0.12],[-5.1,0.22],[-4.95,0.24],[-4.7,0.22],[-4.45,0.2],[-4.22,0.24],[-4.0,0.26],[-3.75,0.27],[-3.5,0.29],[-3.27,0.25],[-3.05,0.26],[-2.86,0.31],[-2.7,0.29],[-2.45,0.26],[-2.2,0.29],[-1.97,0.24],[-1.75,0.23],[-1.5,0.22],[-1.25,0.19],[-1.0,0.15],[-0.65,0.08],[-0.3,0.03],[-0.07,0],[0.5,0.02],[1.1,0.03],[1.6,0.05],[2,0.06]];
const k28_CS = [[-13,0.02],[-12.65,0.08],[-12.35,0.09],[-12.1,0.06],[-11.95,0.1],[-11.75,0.15],[-11.53,0.17],[-11.4,0.14],[-11.23,0.1],[-11.0,0.05],[-10.8,0.03],[-10.65,0.01],[-10.4,0],[2,0]];
const k28_CP = [[-13,0],[-11.2,0.02],[-10.8,0.01],[-8.4,0],[-8.15,0.03],[-7.9,0.1],[-7.73,0.22],[-7.55,0.17],[-7.37,0.15],[-7.2,0.1],[-7.0,0.08],[-6.84,0.08],[-6.66,0.09],[-6.54,0.22],[-6.42,0.68],[-6.34,0.91],[-6.24,0.98],[-6.15,0.91],[-6.06,0.8],[-6.0,0.63],[-5.89,0.61],[-5.8,0.54],[-5.7,0.4],[-5.6,0.22],[-5.47,0.05],[-5.3,0.08],[-5.1,0.12],[-4.95,0.08],[-4.75,0.1],[-4.6,0.06],[-4.35,0.04],[-4.0,0.02],[-3.5,0],[2,0]];

// line styles: colour per element, dashed = s-orbital, solid = p-orbital
const RED = '#ff0000', BLUE = '#0000ff', GREEN = '#00e000', BLACK = '#000000';
const seriesOrder = ['GeS', 'GeP', 'TeS', 'TeP', 'SS', 'SP', 'CS', 'CP'];
const seriesStyle = {
  GeS: { color: RED, dash: true },   GeP: { color: RED, dash: false },
  TeS: { color: BLUE, dash: true },  TeP: { color: BLUE, dash: false },
  SS: { color: GREEN, dash: true },  SP: { color: GREEN, dash: false },
  CS: { color: BLACK, dash: true },  CP: { color: BLACK, dash: false },
};
const DASH = [8, 4];

// legends, offsets relative to the plot area
const legendElements1 = { box: [65, 0, 102, 61], line: [10, 60], text: 67,
  items: [{ label: 'Ge', color: RED, dash: false, dy: 17 }, { label: 'Te', color: BLUE, dash: false, dy: 46 }] };
const legendElements2 = { box: [70, 2, 92, 62], line: [10, 62], text: 67,
  items: [{ label: 'S', color: GREEN, dash: false, dy: 18 }, { label: 'C', color: BLACK, dash: false, dy: 48 }] };
const legendOrbitals = { box: [287, 0, 140, 61], line: [14, 66], text: 73,
  items: [{ label: 'S-orb.', color: BLACK, dash: true, dy: 17 }, { label: 'P-orb.', color: BLACK, dash: false, dy: 42 }] };

// plot boxes in page pixels
const rows = [
  { top: 31, bottom: 185, yMax: 1.1 },
  { top: 197, bottom: 351, yMax: 1.08 },
  { top: 363, bottom: 516, yMax: 1.08 },
  { top: 529, bottom: 684, yMax: 1.08 },
];
const cols = [
  { left: 0, width: 520, padLeft: 0, padRight: 5, showY: true },
  { left: 530, width: 430, padLeft: 7, padRight: 2, showY: false },
];

const panels = [
  { row: 0, col: 0, GeS: a0_GeS, GeP: a0_GeP, TeS: a0_TeS, TeP: a0_TeP, SS: zeroDos, SP: zeroDos, CS: zeroDos, CP: zeroDos, legend: legendElements1 },
  { row: 0, col: 1, GeS: k0_GeS, GeP: k0_GeP, TeS: k0_TeS, TeP: k0_TeP, SS: zeroDos, SP: zeroDos, CS: zeroDos, CP: zeroDos, legend: legendOrbitals },
  { row: 1, col: 0, GeS: a16_GeS, GeP: a16_GeP, TeS: a16_TeS, TeP: a16_TeP, SS: a16_SS, SP: a16_SP, CS: a16_CS, CP: a16_CP, legend: legendElements2 },
  { row: 1, col: 1, GeS: k16_GeS, GeP: k16_GeP, TeS: k16_TeS, TeP: k16_TeP, SS: k16_SS, SP: k16_SP, CS: k16_CS, CP: k16_CP },
  { row: 2, col: 0, GeS: a22_GeS, GeP: a22_GeP, TeS: a22_TeS, TeP: a22_TeP, SS: a22_SS, SP: a22_SP, CS: a22_CS, CP: a22_CP },
  { row: 2, col: 1, GeS: k22_GeS, GeP: k22_GeP, TeS: k22_TeS, TeP: k22_TeP, SS: k22_SS, SP: k22_SP, CS: k22_CS, CP: k22_CP },
  { row: 3, col: 0, GeS: a28_GeS, GeP: a28_GeP, TeS: a28_TeS, TeP: a28_TeP, SS: a28_SS, SP: a28_SP, CS: a28_CS, CP: a28_CP },
  { row: 3, col: 1, GeS: k28_GeS, GeP: k28_GeP, TeS: k28_TeS, TeP: k28_TeP, SS: k28_SS, SP: k28_SP, CS: k28_CS, CP: k28_CP },
];

const FONT = '"Liberation Sans", Arial, Helvetica, sans-serif';
Chart.defaults.font.family = FONT;
Chart.defaults.color = '#000';

// matlab style box with inward ticks, plus the small legends
const framePlugin = {
  id: 'frame',
  beforeDatasetsDraw(chart) {
    const { ctx, chartArea: a, scales: { x, y } } = chart;
    ctx.save();
    ctx.strokeStyle = '#404040';
    ctx.lineWidth = 1;
    ctx.strokeRect(a.left + 0.5, a.top + 0.5, a.right - a.left - 1, a.bottom - a.top - 1);
    ctx.beginPath();
    dosTicks.forEach(v => {
      const py = Math.round(y.getPixelForValue(v)) + 0.5;
      ctx.moveTo(a.left, py); ctx.lineTo(a.left + 5, py);
      ctx.moveTo(a.right, py); ctx.lineTo(a.right - 5, py);
    });
    energyTicks.forEach(v => {
      const px = Math.round(x.getPixelForValue(v)) + 0.5;
      ctx.moveTo(px, a.top); ctx.lineTo(px, a.top + 5);
      ctx.moveTo(px, a.bottom); ctx.lineTo(px, a.bottom - 5);
    });
    ctx.stroke();
    ctx.restore();
  },
  afterDatasetsDraw(chart, args, opts) {
    const lg = opts.legend;
    if (!lg) return;
    const { ctx, chartArea: a } = chart;
    const bx = a.left + lg.box[0], by = a.top + lg.box[1];
    ctx.save();
    ctx.fillStyle = '#fff';
    ctx.fillRect(bx, by, lg.box[2], lg.box[3]);
    ctx.strokeStyle = '#404040';
    ctx.lineWidth = 1;
    ctx.strokeRect(bx + 0.5, by + 0.5, lg.box[2] - 1, lg.box[3] - 1);
    ctx.font = '19px ' + FONT;
    ctx.textBaseline = 'middle';
    lg.items.forEach(it => {
      const ly = a.top + it.dy;
      ctx.beginPath();
      ctx.setLineDash(it.dash ? [7, 4] : []);
      ctx.strokeStyle = it.color;
      ctx.lineWidth = 3.5;
      ctx.moveTo(bx + lg.line[0], ly);
      ctx.lineTo(bx + lg.line[1], ly);
      ctx.stroke();
      ctx.fillStyle = '#000';
      ctx.fillText(it.label, bx + lg.text, ly + 1);
    });
    ctx.restore();
  }
};

const fig = document.getElementById('fig');

panels.forEach(p => {
  const row = rows[p.row], col = cols[p.col];
  const bottomRow = p.row === rows.length - 1;
  const top = row.top - 20;
  const canvas = document.createElement('canvas');
  canvas.width = col.width;
  canvas.height = bottomRow ? 751 - top : row.bottom - row.top + 40;
  canvas.style.left = col.left + 'px';
  canvas.style.top = top + 'px';
  fig.appendChild(canvas);

  const datasets = seriesOrder.map((key, i) => ({
    label: key,
    data: p[key],
    borderColor: seriesStyle[key].color,
    borderDash: seriesStyle[key].dash ? DASH : [],
    borderWidth: 3,
    pointRadius: 0,
    tension: 0,
    fill: false,
    order: -i,
  }));

  new Chart(canvas, {
    type: 'line',
    data: { datasets },
    options: {
      responsive: false,
      animation: false,
      devicePixelRatio: 1,
      events: [],
      layout: { padding: { top: 20, bottom: bottomRow ? 0 : 20, left: col.padLeft, right: col.padRight } },
      plugins: {
        legend: { display: false },
        tooltip: { enabled: false },
        frame: { legend: p.legend || null },
      },
      scales: {
        x: {
          type: 'linear', min: -13, max: 2,
          display: bottomRow,
          grid: { display: false, drawTicks: false },
          border: { display: false },
          afterBuildTicks: s => { s.ticks = energyTicks.map(v => ({ value: v })); },
          ticks: { padding: 9, font: { size: 22 }, color: '#000', maxRotation: 0, autoSkip: false, callback: v => String(v) },
          title: { display: true, text: 'Energia [eV]', font: { size: 25 }, color: '#000', padding: { top: 0, bottom: 2 } },
          afterFit: s => { if (bottomRow) s.height = 67; },
        },
        y: {
          type: 'linear', min: 0, max: row.yMax,
          display: col.showY,
          grid: { display: false, drawTicks: false },
          border: { display: false },
          afterBuildTicks: s => { s.ticks = dosTicks.map(v => ({ value: v })); },
          ticks: { padding: 8, font: { size: 22 }, color: '#000', autoSkip: false, callback: v => String(v) },
          afterFit: s => { if (col.showY) s.width = 93; },
        },
      },
    },
    plugins: [framePlugin],
  });
});
</script>
</body>
</html>
